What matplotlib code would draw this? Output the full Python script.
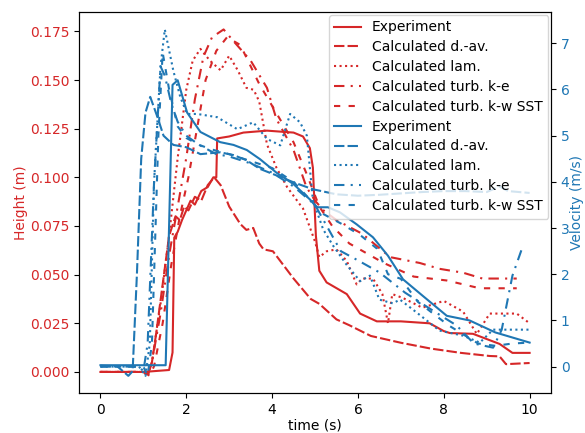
import matplotlib
matplotlib.use("Agg")
import matplotlib.pyplot as plt

# ---------------- Height data (m) ----------------
h_exp_t = [0, 1.0, 1.6, 1.68, 1.72, 1.8, 1.9, 2.0, 2.1, 2.2, 2.35, 2.5, 2.63, 2.7, 2.72, 3.0, 3.33, 3.88, 4.5, 4.72, 4.88, 4.95, 5.02, 5.1, 5.27, 5.74, 6.05, 6.44, 7.0, 7.67, 8.0, 8.14, 8.68, 9.3, 9.6, 10]
h_exp = [0, 0, 0.001, 0.01, 0.069, 0.072, 0.078, 0.083, 0.088, 0.086, 0.093, 0.095, 0.1, 0.1, 0.12, 0.121, 0.123, 0.124, 0.123, 0.121, 0.115, 0.105, 0.07, 0.052, 0.046, 0.04, 0.03, 0.026, 0.026, 0.025, 0.021, 0.02, 0.0196, 0.0144, 0.0098, 0.0098]

h_dav_t = [0, 1.0, 1.1, 1.2, 1.3, 1.45, 1.6, 1.75, 1.85, 1.95, 2.05, 2.2, 2.35, 2.5, 2.65, 2.8, 3.0, 3.26, 3.4, 3.56, 3.7, 3.8, 4.02, 4.5, 4.9, 5.1, 5.5, 5.8, 6.3, 7.0, 7.7, 8.4, 9.07, 9.3, 9.45, 10]
h_dav = [0, 0, -0.001, 0.005, 0.02, 0.045, 0.07, 0.08, 0.078, 0.085, 0.083, 0.09, 0.088, 0.096, 0.1, 0.096, 0.085, 0.076, 0.073, 0.074, 0.066, 0.063, 0.062, 0.048, 0.0375, 0.035, 0.027, 0.024, 0.0185, 0.015, 0.012, 0.0098, 0.0082, 0.008, 0.004, 0.0046]

h_lam_t = [0, 1.0, 1.1, 1.2, 1.4, 1.6, 1.8, 2.0, 2.15, 2.33, 2.55, 2.8, 3.0, 3.2, 3.4, 3.57, 3.7, 3.88, 4.1, 4.35, 4.65, 4.72, 5.0, 5.1, 5.27, 5.5, 5.74, 5.97, 6.1, 6.35, 6.57, 6.7, 6.8, 7.05, 7.5, 8.0, 8.45, 8.77, 9.07, 9.7, 10]
h_lam = [0, 0, -0.002, 0.005, 0.035, 0.07, 0.11, 0.145, 0.16, 0.166, 0.16, 0.155, 0.1625, 0.155, 0.146, 0.145, 0.139, 0.117, 0.105, 0.095, 0.086, 0.084, 0.067, 0.059, 0.062, 0.063, 0.057, 0.045, 0.048, 0.048, 0.04, 0.025, 0.04, 0.038, 0.033, 0.0365, 0.031, 0.0195, 0.03, 0.03, 0.025]

h_ke_t = [0, 1.0, 1.1, 1.2, 1.4, 1.6, 1.8, 2.0, 2.2, 2.4, 2.6, 2.87, 3.1, 3.5, 3.88, 4.1, 4.5, 4.8, 5.0, 5.2, 5.5, 6.1, 6.75, 7.44, 7.9, 8.45, 8.9, 9.7]
h_ke = [0, 0, -0.002, 0.005, 0.03, 0.06, 0.085, 0.11, 0.14, 0.162, 0.172, 0.176, 0.17, 0.16, 0.146, 0.13, 0.114, 0.095, 0.088, 0.083, 0.078, 0.071, 0.059, 0.056, 0.053, 0.051, 0.048, 0.048]

h_kw_t = [0, 1.0, 1.15, 1.25, 1.45, 1.65, 1.85, 2.05, 2.25, 2.45, 2.7, 2.95, 3.26, 3.7, 4.1, 4.5, 4.8, 5.1, 5.4, 5.8, 6.6, 7.3, 8.07, 8.84, 9.7]
h_kw = [0, 0, -0.002, 0.003, 0.025, 0.055, 0.08, 0.1, 0.125, 0.15, 0.165, 0.172, 0.168, 0.148, 0.133, 0.118, 0.102, 0.085, 0.075, 0.066, 0.056, 0.049, 0.047, 0.043, 0.043]

# ---------------- Velocity data (m/s) ----------------
v_exp_t = [0, 1.52, 1.68, 1.8, 2.02, 2.33, 2.79, 3.1, 3.41, 3.72, 4.1, 4.5, 4.88, 5.04, 5.3, 5.58, 5.97, 6.35, 6.7, 7.05, 7.5, 8.07, 8.6, 9.2, 10]
v_exp = [0.03, 0.03, 6.1, 6.2, 5.5, 5.08, 4.86, 4.8, 4.69, 4.49, 4.2, 3.95, 3.62, 3.45, 3.45, 3.34, 3.08, 2.8, 2.4, 1.89, 1.54, 1.1, 1.0, 0.74, 0.52]

v_dav_t = [0, 0.4, 0.65, 0.75, 0.85, 0.95, 1.05, 1.16, 1.33, 1.47, 1.7, 2.0, 2.33, 2.79, 3.1, 3.4, 3.72, 4.1, 4.5, 4.95, 5.5, 6.0, 6.5, 7.0, 7.5, 8.0, 8.5, 9.0, 9.3, 9.5, 10.0]
v_dav = [0.02, 0.0, -0.2, -0.1, 2.0, 4.5, 5.5, 5.84, 5.4, 5.0, 4.8, 4.75, 4.6, 4.64, 4.58, 4.47, 4.28, 4.14, 3.99, 3.84, 3.73, 3.7, 3.72, 3.75, 3.78, 3.8, 3.8, 3.78, 3.9, 3.8, 3.76]

v_lam_t = [0, 0.9, 1.05, 1.15, 1.25, 1.4, 1.5, 1.7, 1.86, 2.02, 2.26, 2.72, 3.19, 3.56, 3.88, 4.19, 4.42, 4.65, 4.81, 4.95, 5.19, 5.42, 5.74, 6.05, 6.28, 6.5, 6.81, 6.98, 7.37, 7.9, 8.45, 8.84, 9.15, 10]
v_lam = [0, 0, -0.2, 0.5, 4.0, 6.5, 7.3, 6.4, 5.84, 5.47, 5.47, 5.4, 5.14, 5.29, 4.93, 4.79, 5.47, 5.29, 5.0, 3.6, 2.97, 2.62, 2.2, 1.85, 1.97, 1.45, 1.37, 1.45, 1.17, 0.78, 0.67, 0.52, 0.8, 0.8]

v_ke_t = [0, 0.9, 1.0, 1.1, 1.25, 1.4, 1.5, 1.65, 1.8, 2.0, 2.3, 2.7, 3.0, 3.5, 4.0, 4.5, 5.0, 5.3, 5.6, 6.0, 6.5, 7.1, 7.7, 8.3, 8.7, 9.15, 9.35, 9.6, 9.85]
v_ke = [0, 0, -0.1, 0.5, 4.0, 6.5, 6.3, 5.7, 5.3, 5.0, 4.8, 4.6, 4.55, 4.4, 4.2, 3.9, 3.5, 3.0, 2.5, 2.3, 2.04, 1.6, 1.24, 0.89, 0.5, 0.41, 0.8, 1.97, 2.63]

v_kw_t = [0, 1.0, 1.1, 1.2, 1.35, 1.45, 1.6, 1.8, 2.0, 2.3, 2.6, 3.0, 3.5, 4.0, 4.5, 4.9, 5.2, 5.6, 6.05, 6.45, 6.7, 7.0, 7.4, 8.1, 8.8, 9.2, 9.6, 10]
v_kw = [0.0, 0.0, -0.2, 0.5, 5.0, 6.8, 6.0, 5.2, 4.95, 4.8, 4.7, 4.6, 4.45, 4.3, 4.0, 3.6, 3.3, 3.1, 2.85, 2.55, 2.0, 1.9, 1.4, 0.9, 0.5, 0.45, 0.5, 0.52]

labels = ["Experiment", "Calculated d.-av.", "Calculated lam.",
          "Calculated turb. k-e", "Calculated turb. k-w SST"]

red = "tab:red"
blue = "tab:blue"
styles = ["-", (0, (5, 1.5)), ":", (0, (5, 3, 1, 3)), (0, (3, 4))]

fig = plt.figure(figsize=(5.85, 4.33), dpi=100)
ax = fig.add_axes([0.135, 0.092, 0.807, 0.88])
ax2 = ax.twinx()

h_sets = [(h_exp_t, h_exp), (h_dav_t, h_dav), (h_lam_t, h_lam), (h_ke_t, h_ke), (h_kw_t, h_kw)]
v_sets = [(v_exp_t, v_exp), (v_dav_t, v_dav), (v_lam_t, v_lam), (v_ke_t, v_ke), (v_kw_t, v_kw)]

handles = []
for (t, y), ls, lab in zip(h_sets, styles, labels):
    l, = ax.plot(t, y, color=red, linestyle=ls, lw=1.5, label=lab)
    handles.append(l)
for (t, y), ls, lab in zip(v_sets, styles, labels):
    l, = ax2.plot(t, y, color=blue, linestyle=ls, lw=1.5, label=lab)
    handles.append(l)

ax.set_xlabel("time (s)", labelpad=1.5)
ax.set_ylabel("Height (m)", color=red, labelpad=1.5)
ax.tick_params(axis="y", labelcolor=red)
ax2.set_ylabel("Velocity (m/s)", color=blue, labelpad=0)
ax2.tick_params(axis="y", labelcolor=blue)

ax2.legend(handles=handles, loc="upper right", fontsize=10,
           labelspacing=0.42, borderaxespad=0.2, handlelength=1.9)

fig.savefig("out.png", dpi=100)
